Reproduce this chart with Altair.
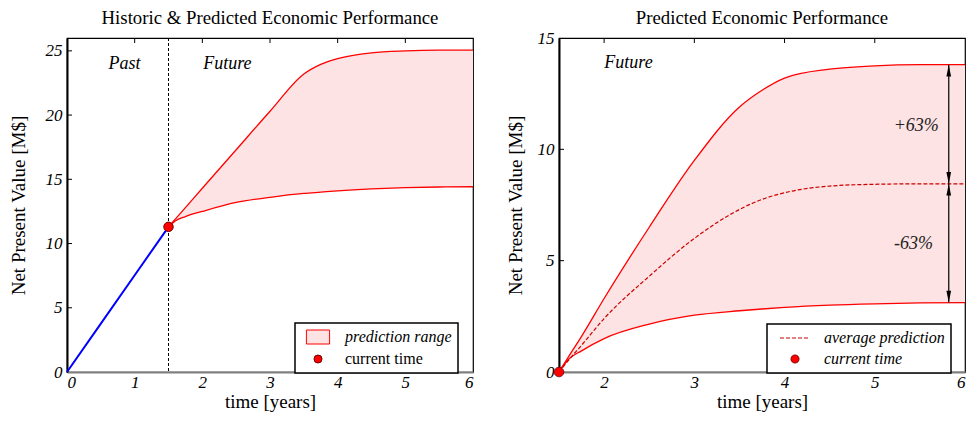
import altair as alt
import pandas as pd

# ---------------- data ----------------
t_hist = [0.0, 0.5, 1.0, 1.5]
npv_hist = [0.0, 3.77, 7.53, 11.3]

t_pred = [1.5, 1.6, 1.75, 2.0, 2.5, 3.0, 3.5, 3.75, 4.0, 4.5, 5.0, 5.5, 6.0]
left_upper = [11.3, 11.9, 12.8, 14.3, 17.3, 20.3, 23.2, 23.95, 24.4, 24.85, 25.0, 25.05, 25.05]
left_lower = [11.3, 11.75, 12.1, 12.5, 13.2, 13.6, 13.9, 14.0, 14.1, 14.25, 14.35, 14.4, 14.42]

right_upper = [0.0, 0.65, 1.6, 3.3, 6.5, 9.5, 11.9, 12.65, 13.2, 13.6, 13.75, 13.8, 13.8]
right_avg = [0.0, 0.5, 1.2, 2.4, 4.3, 6.0, 7.3, 7.75, 8.05, 8.35, 8.43, 8.45, 8.45]
right_lower = [0.0, 0.55, 0.95, 1.5, 2.15, 2.55, 2.75, 2.83, 2.9, 3.0, 3.06, 3.1, 3.12]

current_t = 1.5
current_v_left = 11.3
current_v_right = 0.0

left_xticks = [0, 1, 2, 3, 4, 5, 6]
left_yticks = [0, 5, 10, 15, 20, 25]
right_xticks = [2, 3, 4, 5, 6]
right_yticks = [0, 5, 10, 15]

arrow_t = 5.82
pct_labels = ["+63%", "-63%"]

legend_left = ["prediction range", "current time"]
legend_right = ["average prediction", "current time"]

# ---------------- styles ----------------
FONT = "Liberation Serif"
PINK = "#fde3e3"
RED = "#ff0000"
DARKRED = "#cc0000"
PT_EDGE = "#700000"
W, H = 406, 334

RECT_PATH = "M-2.9,-1.75H2.9V1.75H-2.9Z"
LINE_PATH = "M-3.75,0H3.75"
UP_HEAD = "M0,0L-1,5L1,5Z"
DOWN_HEAD = "M0,0L-1,-5L1,-5Z"


def xaxis(values):
    return alt.Axis(values=values, format="d", title="time [years]", labelOverlap=False,
                    domainColor="#808080", domainWidth=2, labelPadding=2, titlePadding=2)


def yaxis(values, tpad):
    return alt.Axis(values=values, format="d", title="Net Present Value [M$]", labelOverlap=False,
                    domainColor="black", domainWidth=2, labelPadding=5, titlePadding=tpad)


def panel(x_dom, y_dom, xticks, yticks, top_ticks, left_ticks, upper, lower, tpad):
    xs = alt.Scale(domain=x_dom, nice=False, zero=False)
    ys = alt.Scale(domain=y_dom, nice=False, zero=False)
    pred = pd.DataFrame({"t": t_pred, "upper": upper, "lower": lower})
    area = alt.Chart(pred).mark_area(color=PINK, opacity=1, interpolate="monotone").encode(
        x=alt.X("t:Q", scale=xs, axis=xaxis(xticks)),
        y=alt.Y("lower:Q", scale=ys, axis=yaxis(yticks, tpad)),
        y2="upper:Q",
    )
    up_line = alt.Chart(pred).mark_line(color=RED, strokeWidth=1.3, interpolate="monotone").encode(
        x=alt.X("t:Q", scale=xs), y=alt.Y("upper:Q", scale=ys))
    lo_line = alt.Chart(pred).mark_line(color=RED, strokeWidth=1.3, interpolate="monotone").encode(
        x=alt.X("t:Q", scale=xs), y=alt.Y("lower:Q", scale=ys))
    tt = alt.Chart(pd.DataFrame({"v": top_ticks})).mark_rule(color="black", strokeWidth=1).encode(
        x=alt.X("v:Q", scale=xs), y=alt.value(0), y2=alt.value(5))
    lt = alt.Chart(pd.DataFrame({"v": left_ticks})).mark_rule(color="black", strokeWidth=1).encode(
        y=alt.Y("v:Q", scale=ys), x=alt.value(0), x2=alt.value(5))
    return xs, ys, [area, up_line, lo_line, tt, lt]


# ---------------- left panel ----------------
xsL, ysL, baseL = panel([0, 6], [0, 26], left_xticks, left_yticks,
                        left_xticks[1:-1], left_yticks[1:], left_upper, left_lower, 17)

hist = alt.Chart(pd.DataFrame({"t": t_hist, "v": npv_hist})).mark_line(
    color="#0000ff", strokeWidth=2).encode(x=alt.X("t:Q", scale=xsL), y=alt.Y("v:Q", scale=ysL))

vline = alt.Chart(pd.DataFrame({"t": [current_t]})).mark_rule(
    color="black", strokeDash=[3, 2], strokeWidth=1).encode(x=alt.X("t:Q", scale=xsL))

textL = alt.Chart(pd.DataFrame({"t": [0.85, 2.37], "v": [24.0, 24.0], "s": ["Past", "Future"]})).mark_text(
    font=FONT, fontSize=18, fontStyle="italic", color="black").encode(
    x=alt.X("t:Q", scale=xsL), y=alt.Y("v:Q", scale=ysL), text="s:N")

legL = alt.Legend(title=None, orient="none", legendX=228, legendY=285, padding=6,
                  symbolOffset=9, labelOffset=19, rowPadding=5, symbolSize=64,
                  symbolStrokeWidth=1,
                  labelFontStyle={"expr": "datum.label == 'current time' ? 'normal' : 'italic'"})

ptL = alt.Chart(pd.DataFrame({"t": [current_t], "v": [current_v_left], "item": ["current time"]})).mark_point(
    filled=True, opacity=1, size=90, strokeWidth=1).encode(
    x=alt.X("t:Q", scale=xsL), y=alt.Y("v:Q", scale=ysL),
    fill=alt.Fill("item:N", scale=alt.Scale(domain=legend_left, range=[PINK, RED]), legend=legL),
    stroke=alt.Stroke("item:N", scale=alt.Scale(domain=legend_left, range=[RED, PT_EDGE]), legend=legL),
    shape=alt.Shape("item:N", scale=alt.Scale(domain=legend_left, range=[RECT_PATH, "circle"]), legend=legL),
)

left = alt.layer(*baseL[:1], hist, *baseL[1:], vline, textL, ptL).properties(
    width=W, height=H,
    title=alt.TitleParams("Historic & Predicted Economic Performance", offset=10))

# ---------------- right panel ----------------
xsR, ysR, baseR = panel([1.5, 6], [0, 15], right_xticks, right_yticks,
                        right_xticks[:-1], right_yticks[1:-1], right_upper, right_lower, 12)

avg = alt.Chart(pd.DataFrame({"t": t_pred, "v": right_avg})).mark_line(
    color=DARKRED, strokeDash=[4, 2], strokeWidth=1.2, interpolate="monotone").encode(
    x=alt.X("t:Q", scale=xsR), y=alt.Y("v:Q", scale=ysR))

arrows = pd.DataFrame({"t": [arrow_t, arrow_t], "a": [right_upper[-1], right_avg[-1]],
                       "b": [right_avg[-1], right_lower[-1]]})
arr_rule = alt.Chart(arrows).mark_rule(color="black", strokeWidth=1.2).encode(
    x=alt.X("t:Q", scale=xsR), y=alt.Y("a:Q", scale=ysR), y2="b:Q")
heads_up = alt.Chart(pd.DataFrame({"t": [arrow_t, arrow_t], "v": [right_upper[-1], right_avg[-1]]})).mark_point(
    shape=UP_HEAD, size=22, filled=True, color="black", opacity=1).encode(
    x=alt.X("t:Q", scale=xsR), y=alt.Y("v:Q", scale=ysR))
heads_dn = alt.Chart(pd.DataFrame({"t": [arrow_t, arrow_t], "v": [right_avg[-1], right_lower[-1]]})).mark_point(
    shape=DOWN_HEAD, size=22, filled=True, color="black", opacity=1).encode(
    x=alt.X("t:Q", scale=xsR), y=alt.Y("v:Q", scale=ysR))

pct = alt.Chart(pd.DataFrame({"t": [5.46, 5.43], "v": [11.04, 5.76], "s": pct_labels})).mark_text(
    font=FONT, fontSize=18, fontStyle="italic", color="#222222").encode(
    x=alt.X("t:Q", scale=xsR), y=alt.Y("v:Q", scale=ysR), text="s:N")

textR = alt.Chart(pd.DataFrame({"t": [2.27], "v": [13.86], "s": ["Future"]})).mark_text(
    font=FONT, fontSize=18, fontStyle="italic", color="black").encode(
    x=alt.X("t:Q", scale=xsR), y=alt.Y("v:Q", scale=ysR), text="s:N")

legR = alt.Legend(title=None, orient="none", legendX=208, legendY=286, padding=6,
                  symbolOffset=14, labelOffset=21, rowPadding=5, symbolSize=64,
                  symbolStrokeWidth=1, labelFontStyle="italic")

ptR = alt.Chart(pd.DataFrame({"t": [current_t], "v": [current_v_right], "item": ["current time"]})).mark_point(
    filled=True, opacity=1, size=90, strokeWidth=1).encode(
    x=alt.X("t:Q", scale=xsR), y=alt.Y("v:Q", scale=ysR),
    fill=alt.Fill("item:N", scale=alt.Scale(domain=legend_right, range=["transparent", RED]), legend=legR),
    stroke=alt.Stroke("item:N", scale=alt.Scale(domain=legend_right, range=[DARKRED, PT_EDGE]), legend=legR),
    shape=alt.Shape("item:N", scale=alt.Scale(domain=legend_right, range=[LINE_PATH, "circle"]), legend=legR),
    strokeDash=alt.StrokeDash("item:N", scale=alt.Scale(domain=legend_right, range=[[4, 2], [1, 0]]), legend=legR),
)

right = alt.layer(*baseR, avg, arr_rule, heads_up, heads_dn, pct, textR, ptR).properties(
    width=W, height=H,
    title=alt.TitleParams("Predicted Economic Performance", offset=1.5))

chart = alt.hconcat(left, right, spacing=28).resolve_scale(
    x="independent", y="independent", fill="independent", stroke="independent",
    shape="independent", strokeDash="independent"
).configure(
    background="white", padding={"left": 0, "right": 0, "top": 0, "bottom": 0}
).configure_view(stroke="black", strokeWidth=1.2).configure_axis(
    labelFont=FONT, labelFontSize=17, labelFontStyle="italic", labelColor="black",
    titleFont=FONT, titleFontSize=19, titleFontWeight="normal", titleColor="black",
    grid=False, ticks=False
).configure_title(
    font=FONT, fontSize=18.8, fontWeight="normal", color="black"
).configure_legend(
    labelFont=FONT, labelFontSize=16, labelColor="black", strokeColor="black",
    fillColor="white", strokeWidth=1.5, cornerRadius=0
)

chart.save("out.html", embed_options={"renderer": "svg", "actions": False})
